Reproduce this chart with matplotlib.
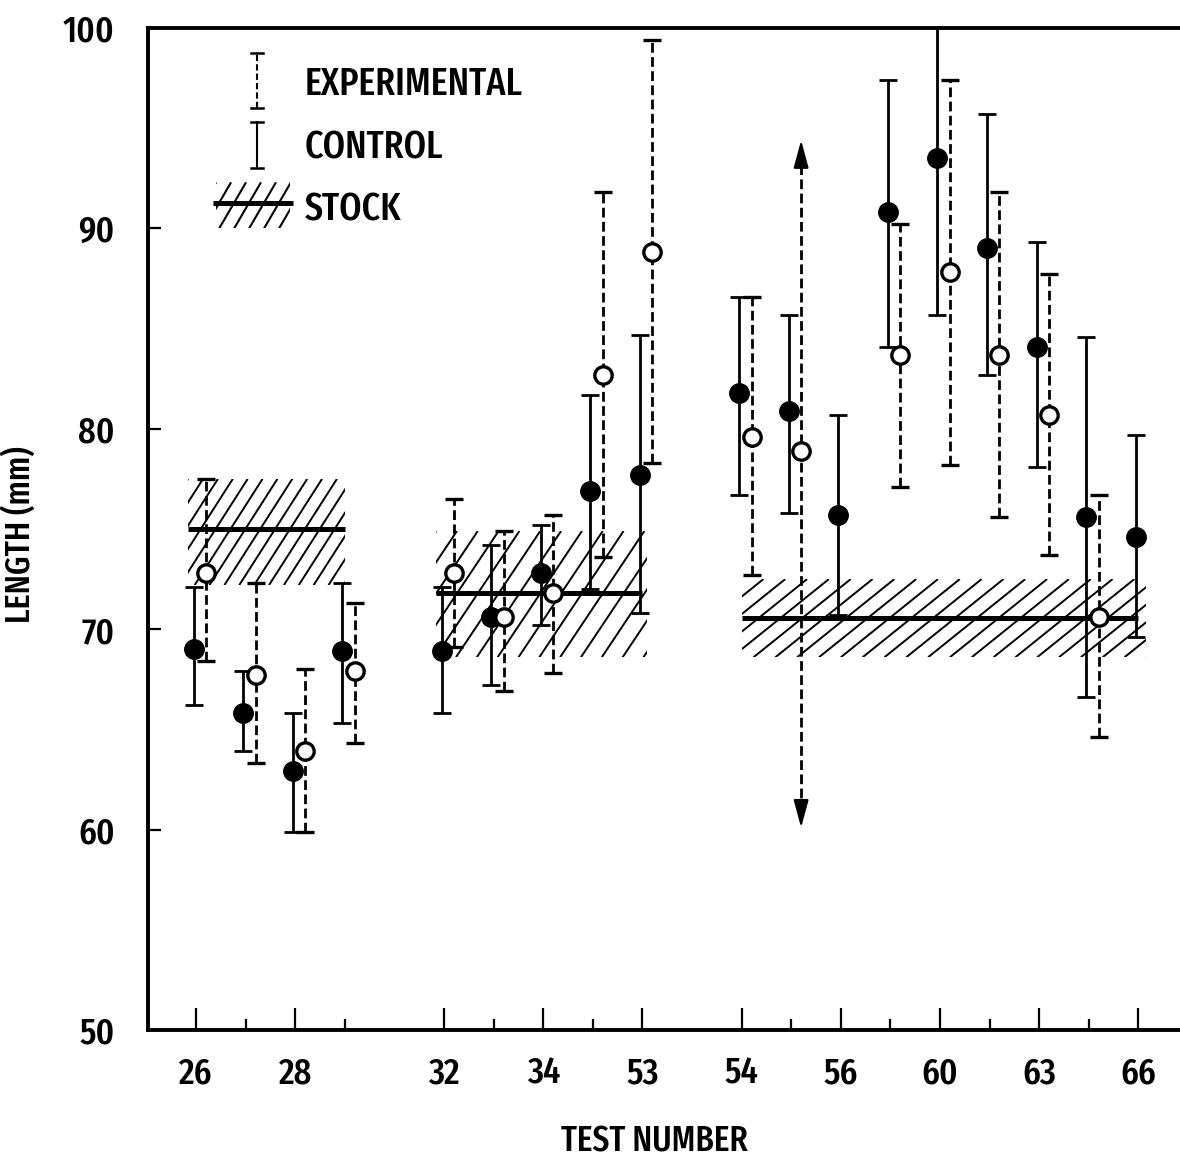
import matplotlib
matplotlib.use("Agg")
import matplotlib.pyplot as plt
from matplotlib.patches import Rectangle
import numpy as np

plt.rcParams['font.family'] = ['Fira Sans Extra Condensed', 'DejaVu Sans']
plt.rcParams['font.weight'] = 'medium'
plt.rcParams['axes.labelweight'] = 'medium'

# x axis: slot positions of the ticks and their labels
major_slots = [0, 2, 5, 7, 9, 11, 13, 15, 17, 19]
major_labels = ['26', '28', '32', '34', '53', '54', '56', '60', '63', '66']
minor_slots = [1, 3, 6, 8, 12, 14, 16, 18]

# control (filled circles, solid bars)
ctrl_slot = [0, 1, 2, 3, 5, 6, 7, 8, 9, 11, 12, 13, 14, 15, 16, 17, 18, 19]
ctrl_mean = [69.0, 65.8, 62.9, 68.9, 68.9, 70.6, 72.8, 76.9, 77.7, 81.8, 80.9, 75.7, 90.8, 93.5, 89.0, 84.1, 75.6, 74.6]
ctrl_lo = [66.2, 63.9, 59.9, 65.3, 65.8, 67.2, 70.2, 72.0, 70.8, 76.7, 75.8, 70.7, 84.1, 85.7, 82.7, 78.1, 66.6, 69.6]
ctrl_hi = [72.1, 67.9, 65.8, 72.3, 72.1, 74.2, 75.2, 81.7, 84.7, 86.6, 85.7, 80.7, 97.4, 101.3, 95.7, 89.3, 84.6, 79.7]

# experimental (open circles, dashed bars)
exp_slot = [0, 1, 2, 3, 5, 6, 7, 8, 9, 11, 14, 15, 16, 17, 18]
exp_mean = [72.8, 67.7, 63.9, 67.9, 72.8, 70.6, 71.8, 82.7, 88.8, 79.6, 83.7, 87.8, 83.7, 80.7, 70.6]
exp_lo = [68.4, 63.3, 59.9, 64.3, 69.1, 66.9, 67.8, 73.6, 78.3, 72.7, 77.1, 78.2, 75.6, 73.7, 64.6]
exp_hi = [77.5, 72.3, 68.0, 71.3, 76.5, 74.9, 75.7, 91.8, 99.4, 86.6, 90.2, 97.4, 91.8, 87.7, 76.7]

# experimental point whose range is drawn with arrows
arrow_slot = 12
arrow_mean = 78.9
arrow_lo = 60.1
arrow_hi = 94.4

# stock bands: x start/end (slots), mean line, band low/high
stock_x0 = [-0.16, 4.84, 11.0]
stock_x1 = [3.0, 9.0, 19.0]
stock_mean = [75.0, 71.8, 70.55]
stock_lo = [72.2, 68.6, 68.6]
stock_hi = [77.5, 74.9, 72.5]

CTRL_DX = -0.05
EXP_DX = 0.2
# hatch look per band: spacing and horizontal run (slots)
hatch_style = [(0.30, 1.37), (0.42, 1.7), (0.44, 1.96)]
band_pad = [0.0, 0.1, 0.15]
DASH = (0, (3.5, 1.6))


def draw_hatch(ax, x0, x1, y0, y1, spacing, run, transform, lw=1.4):
    clip = Rectangle((x0, y0), x1 - x0, y1 - y0, transform=transform,
                     fill=False, edgecolor='none')
    ax.add_patch(clip)
    for s in np.arange(x0 - run, x1 + spacing, spacing):
        ln, = ax.plot([s, s + run], [y0, y1], color='black', lw=lw,
                      transform=transform, solid_capstyle='butt', zorder=1)
        ln.set_clip_path(clip)


fig = plt.figure(figsize=(11.8, 11.62), dpi=100)
ax = fig.add_axes([148 / 1180, 1 - 1030 / 1162, 1 - 148 / 1180, (1030 - 28) / 1162])

# stock bands
for i in range(len(stock_mean)):
    sp, run = hatch_style[i]
    draw_hatch(ax, stock_x0[i], stock_x1[i] + band_pad[i], stock_lo[i], stock_hi[i],
               sp, run, ax.transData)
    ax.plot([stock_x0[i], stock_x1[i]], [stock_mean[i]] * 2, color='black',
            lw=3.6, solid_capstyle='butt', zorder=3)

# control
cx = np.array(ctrl_slot) + CTRL_DX
cm = np.array(ctrl_mean)
ce = [cm - np.array(ctrl_lo), np.array(ctrl_hi) - cm]
ax.errorbar(cx, cm, yerr=ce, fmt='o', color='black', ms=14, elinewidth=2.0,
            capsize=6.5, capthick=2.0, zorder=4)

# experimental
ex = np.array(exp_slot) + EXP_DX
em = np.array(exp_mean)
ee = [em - np.array(exp_lo), np.array(exp_hi) - em]
_, caps, bars = ax.errorbar(ex, em, yerr=ee, fmt='o', color='black', mfc='white',
                            mec='black', mew=2.4, ms=12.5, elinewidth=2.0,
                            capsize=6.5, capthick=2.0, zorder=5)
bars[0].set_linestyle(DASH)

# off-scale experimental range with arrow heads
xa = arrow_slot + EXP_DX
ax.plot([xa, xa], [arrow_lo + 0.8, arrow_hi - 0.8], color='black', lw=2.0,
        ls=DASH, zorder=4)
for tip, base in [(arrow_hi, arrow_hi - 1.2), (arrow_lo, arrow_lo + 1.2)]:
    ax.annotate('', xy=(xa, tip), xytext=(xa, base),
                arrowprops=dict(arrowstyle='-|>,head_length=17,head_width=4.6',
                                mutation_scale=1, color='black', lw=1.5,
                                shrinkA=0, shrinkB=0), zorder=5)
ax.plot([xa], [arrow_mean], 'o', ms=12.5, mfc='white', mec='black', mew=2.4, zorder=6)

# axes
ax.set_xlim(-0.97, 19.84)
ax.set_ylim(50, 100)
ax.spines['right'].set_visible(False)
for s in ['left', 'top', 'bottom']:
    ax.spines[s].set_linewidth(2.8)
ax.set_xticks(major_slots)
ax.set_xticklabels(major_labels)
ax.set_xticks(minor_slots, minor=True)
ax.set_yticks([50, 60, 70, 80, 90, 100])
ax.tick_params(axis='x', which='major', direction='in', length=16, width=1.6,
               labelsize=27, pad=19)
ax.tick_params(axis='x', which='minor', direction='in', length=8, width=1.6)
ax.tick_params(axis='y', direction='in', length=9, width=1.6, labelsize=27, pad=24)
ax.set_xlabel('TEST NUMBER', fontsize=26, va='center')
ax.xaxis.set_label_coords(0.491, -0.111)
ax.set_ylabel('LENGTH (mm)', fontsize=25)
ax.yaxis.set_label_coords(-0.106, 0.494)

# legend
t = ax.transAxes
ax.plot([0.1056, 0.1056], [0.920, 0.975], color='black', lw=1.5, ls=(0, (3, 1.5)),
        transform=t)
ax.plot([0.1056, 0.1056], [0.860, 0.906], color='black', lw=1.5, transform=t)
for y in [0.920, 0.975, 0.860, 0.906]:
    ax.plot([0.1000, 0.1112], [y, y], color='black', lw=1.8, transform=t)
draw_hatch(ax, 0.066, 0.1376, 0.800, 0.846, 0.0145, 0.026, t, lw=1.5)
ax.plot([0.063, 0.1405], [0.8253, 0.8253], color='black', lw=3.6, transform=t,
        solid_capstyle='butt')
ax.text(0.152, 0.943, 'EXPERIMENTAL', transform=t, fontsize=28, va='center')
ax.text(0.152, 0.880, 'CONTROL', transform=t, fontsize=28, va='center')
ax.text(0.152, 0.818, 'STOCK', transform=t, fontsize=28, va='center')

fig.savefig('out.png', dpi=100)
